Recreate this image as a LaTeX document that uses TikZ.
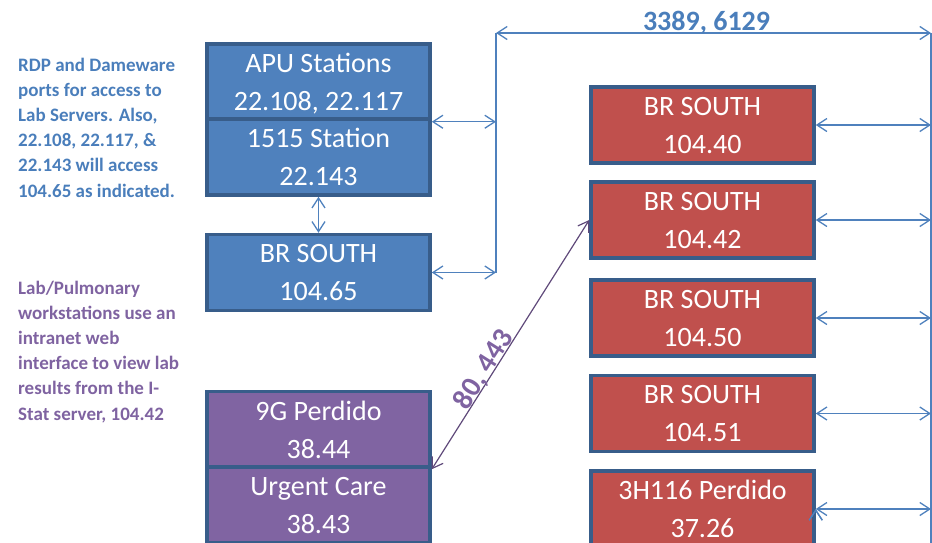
\documentclass[tikz,border=0pt]{standalone}
\usepackage{fontspec}
\setmainfont{Carlito}
\usepackage{xcolor}
\usepackage{tikz}
\usetikzlibrary{positioning, arrows.meta}

\definecolor{boxblue}{HTML}{4F81BD}
\definecolor{boxedge}{HTML}{385D8A}
\definecolor{boxred}{HTML}{C0504D}
\definecolor{boxpurple}{HTML}{8064A2}
\definecolor{noteblue}{HTML}{4A7EBB}
\definecolor{notepurple}{HTML}{7F63A1}
\definecolor{linkpurple}{HTML}{5F497A}

\begin{document}
\begin{tikzpicture}[x=1pt,y=-1pt,>={Straight Barb[length=10pt,width=13pt]}]
					\tikzstyle{box}=[draw=boxedge,line width=3.5pt,minimum width=223pt,minimum height=76pt,inner sep=0pt,text=white,align=center,text depth=0pt,font=\fontsize{28}{38}\selectfont]
					\tikzstyle{bluebox}=[box,fill=boxblue]
					\tikzstyle{redbox}=[box,fill=boxred]
					\tikzstyle{purplebox}=[box,fill=boxpurple]
					\tikzstyle{note}=[inner sep=0pt,align=left,font=\fontsize{19}{25.2}\selectfont\bfseries]
					\tikzstyle{bus}=[draw=boxblue,line width=1.3pt]
					\useasboundingbox (0,0) rectangle (932,542);
					% left side
					\node[bluebox](apu) at (318.5,82){APU Stations\\22.108, 22.117};
					\node[bluebox](stn) at (318.5,157){1515 Station\\22.143};
					\node[bluebox](brs65) at (318.5,272.5){BR SOUTH\\104.65};
					\node[purplebox](g9) at (318.5,429.5){9G Perdido\\38.44};
					\node[purplebox](urg) at (318.5,505){Urgent Care\\38.43};
					% right side
					\node[redbox](brs40) at (702.5,125){BR SOUTH\\104.40};
					\node[redbox](brs42) at (702.5,220){BR SOUTH\\104.42};
					\node[redbox](brs50) at (702.5,318){BR SOUTH\\104.50};
					\node[redbox](brs51) at (702.5,413.5){BR SOUTH\\104.51};
					\node[redbox](perd37) at (702.5,509){3H116 Perdido\\37.26};
					% notes
					\node[note,text=noteblue,anchor=base west](rdpnote) at (18,197){RDP and Dameware\\ports for access to\\Lab Servers. Also,\\22.108, 22.117, \&\\22.143 will access\\104.65 as indicated.};
					\node[note,text=notepurple,anchor=base west](labnote) at (18,420){Lab/Pulmonary\\workstations use an\\intranet web\\interface to view lab\\results from the I-\\Stat server, 104.42};
					% buses
					\coordinate (busnw) at (496,33);
					\coordinate (busne) at (931,33);
					\coordinate (bussw) at (496,273);
					\coordinate (busse) at (931,545);
					\draw[bus] (busnw) -- (bussw);
					\draw[bus] (busne) -- (busse);
					\draw[bus,<->] (busnw) -- node[pos=0.484,anchor=base,yshift=3pt,text=noteblue,font=\fontsize{28}{30}\selectfont\bfseries]{3389, 6129} (busne);
					\path[bus,<->]
						(apu.south east) edge (apu.south east -| busnw)
						(brs65.east) edge (brs65.east -| busnw)
						(stn.south) edge (brs65.north)
						(brs40.east) edge (brs40.east -| busne)
						(brs42.east) edge (brs42.east -| busne)
						(brs50.east) edge (brs50.east -| busne)
						(brs51.east) edge (brs51.east -| busne)
						(perd37.east) edge (perd37.east -| busne);
					\draw[linkpurple,line width=1.2pt,<->] (brs42.west) -- node[sloped,pos=0.62,anchor=base,inner sep=0pt,yshift=1pt,text=notepurple,font=\fontsize{29}{30}\selectfont\bfseries]{80, 443} (g9.south east);
				\end{tikzpicture}
\end{document}
